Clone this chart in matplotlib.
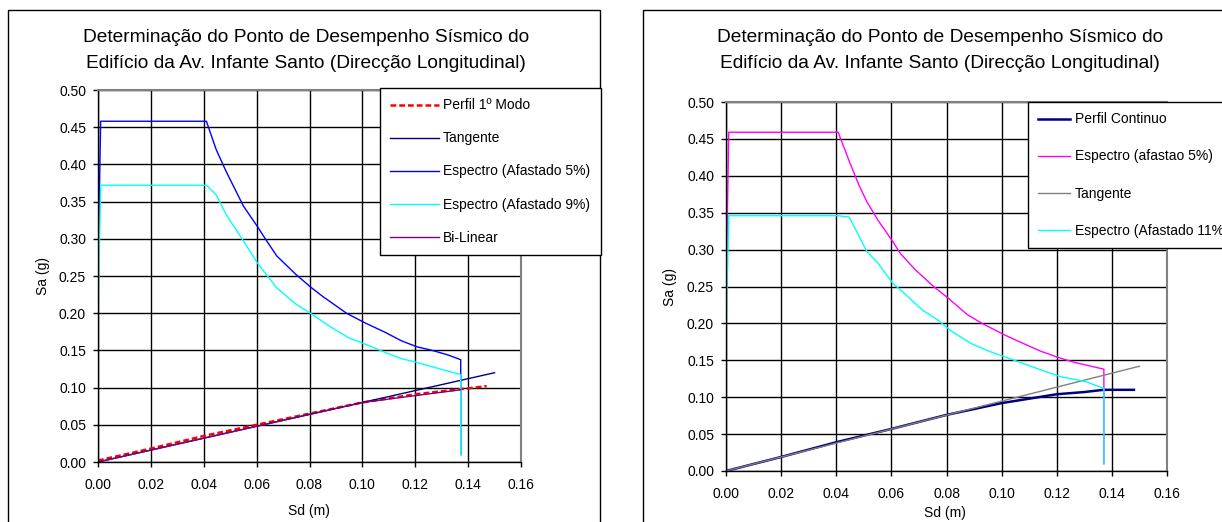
import matplotlib
matplotlib.use("Agg")
import matplotlib.pyplot as plt
from matplotlib.patches import Rectangle

plt.rcParams['font.family'] = ['Liberation Sans', 'DejaVu Sans']

W, H = 1222, 522

title_l1 = "Determinação do Ponto de Desempenho Sísmico do"
title_l2 = "Edifício da Av. Infante Santo (Direcção Longitudinal)"
xlabel = "Sd (m)"
ylabel = "Sa (g)"
xticks = [0.00, 0.02, 0.04, 0.06, 0.08, 0.10, 0.12, 0.14, 0.16]
yticks = [0.00, 0.05, 0.10, 0.15, 0.20, 0.25, 0.30, 0.35, 0.40, 0.45, 0.50]

# ---- left chart series ----
perfil1_sd = [0.0, 0.02, 0.04, 0.06, 0.08, 0.10, 0.12, 0.14, 0.147]
perfil1_sa = [0.002, 0.018, 0.035, 0.050, 0.065, 0.080, 0.091, 0.099, 0.102]

tang_l_sd = [0.0, 0.15]
tang_l_sa = [0.0, 0.12]

esp5_l_sd = [0.0, 0.001, 0.041, 0.0447, 0.0484, 0.055, 0.0602, 0.0631, 0.0676,
             0.0749, 0.0808, 0.0852, 0.094, 0.1007, 0.1088, 0.1147, 0.1205,
             0.1264, 0.1323, 0.1372, 0.1372]
esp5_l_sa = [0.25, 0.458, 0.458, 0.420, 0.391, 0.344, 0.317, 0.301, 0.277,
             0.252, 0.234, 0.222, 0.200, 0.1875, 0.174, 0.163, 0.155,
             0.150, 0.144, 0.1375, 0.010]

esp9_sd = [0.0, 0.001, 0.041, 0.0447, 0.0484, 0.0543, 0.0602, 0.0676, 0.0749,
           0.0808, 0.0882, 0.0948, 0.1014, 0.1088, 0.1147, 0.1205, 0.1294,
           0.1372, 0.1372]
esp9_sa = [0.192, 0.372, 0.372, 0.359, 0.333, 0.301, 0.268, 0.234, 0.212,
           0.199, 0.181, 0.167, 0.158, 0.147, 0.139, 0.134, 0.125,
           0.1175, 0.010]

bilin_sd = [0.0, 0.10, 0.137]
bilin_sa = [0.0, 0.080, 0.097]

# ---- right chart series ----
pcont_sd = [0.0, 0.02, 0.04, 0.06, 0.08, 0.09, 0.10, 0.11, 0.12, 0.13, 0.137, 0.148]
pcont_sa = [0.0, 0.019, 0.039, 0.057, 0.076, 0.084, 0.092, 0.098, 0.104, 0.107, 0.110, 0.110]

esp5_r_sd = [0.0, 0.001, 0.0407, 0.045, 0.0484, 0.0511, 0.0551, 0.0605, 0.0632,
             0.0686, 0.0753, 0.0807, 0.0875, 0.0929, 0.101, 0.1077, 0.1144,
             0.1212, 0.1266, 0.1371, 0.1371]
esp5_r_sa = [0.235, 0.459, 0.459, 0.417, 0.386, 0.365, 0.340, 0.311, 0.295,
             0.273, 0.250, 0.234, 0.212, 0.200, 0.1845, 0.173, 0.162,
             0.153, 0.147, 0.138, 0.010]

tang_r_sd = [0.0, 0.15]
tang_r_sa = [0.0, 0.142]

esp11_sd = [0.0, 0.001, 0.0405, 0.0447, 0.0511, 0.0551, 0.0605, 0.0646, 0.0713,
            0.0767, 0.082, 0.0888, 0.0956, 0.101, 0.109, 0.1158, 0.1212,
            0.1306, 0.1371, 0.1371]
esp11_sa = [0.178, 0.346, 0.346, 0.344, 0.2975, 0.2817, 0.2545, 0.241, 0.218,
            0.205, 0.189, 0.173, 0.162, 0.155, 0.144, 0.135, 0.128,
            0.121, 0.112, 0.0095]

fig = plt.figure(figsize=(W / 100, H / 100), dpi=100)
fig.patch.set_facecolor('white')


def fbox(x0, y0, x1, y1):
    """pixel box (top-left origin) -> figure fraction rect"""
    return [x0 / W, 1 - y1 / H, (x1 - x0) / W, (y1 - y0) / H]


def style_axes(ax):
    ax.set_xlim(0, 0.16)
    ax.set_ylim(0, 0.5)
    ax.set_xticks(xticks)
    ax.set_yticks(yticks)
    ax.set_xticklabels([f"{v:.2f}" for v in xticks])
    ax.set_yticklabels([f"{v:.2f}" for v in yticks])
    ax.grid(True, color='black', linewidth=1.0)
    for s in ('left', 'bottom'):
        ax.spines[s].set_color('black')
        ax.spines[s].set_linewidth(1.0)
    for s in ('top', 'right'):
        ax.spines[s].set_color('#808080')
        ax.spines[s].set_linewidth(1.5)
    ax.tick_params(axis='both', direction='out', length=3.6, width=1.0,
                   labelsize=10, colors='black')
    ax.tick_params(axis='y', pad=5)
    ax.tick_params(axis='x', pad=8)
    ax.set_facecolor('white')


# outer chart frames
fig.add_artist(Rectangle((8 / W, 1 - 600 / H), (600 - 8) / W, (600 - 10) / H,
                         transform=fig.transFigure, fill=False,
                         edgecolor='black', linewidth=1.0))
fig.add_artist(Rectangle((643 / W, 1 - 600 / H), (1400 - 643) / W, (600 - 10) / H,
                         transform=fig.transFigure, fill=False,
                         edgecolor='black', linewidth=1.0))

# ---------------- left chart ----------------
ax1 = fig.add_axes(fbox(98, 90, 521, 462))
style_axes(ax1)
h1, = ax1.plot(perfil1_sd, perfil1_sa, color='#FF0000', linewidth=1.8,
               linestyle=(0, (2.3, 1.2)), label='Perfil 1º Modo')
h2, = ax1.plot(tang_l_sd, tang_l_sa, color='#000080', linewidth=1.0, label='Tangente')
h3, = ax1.plot(esp5_l_sd, esp5_l_sa, color='#0000FF', linewidth=1.0,
               label='Espectro (Afastado 5%)')
h4, = ax1.plot(esp9_sd, esp9_sa, color='#00FFFF', linewidth=1.0,
               label='Espectro (Afastado 9%)')
h5, = ax1.plot(bilin_sd, bilin_sa, color='#800080', linewidth=1.0, label='Bi-Linear')

fig.text(306 / W, 1 - 38 / H, title_l1, ha='center', va='center', fontsize=13.8)
fig.text(306 / W, 1 - 63 / H, title_l2, ha='center', va='center', fontsize=13.8)
fig.text(43 / W, 1 - 276 / H, ylabel, ha='center', va='center', rotation=90, fontsize=10)
fig.text(309 / W, 1 - 511 / H, xlabel, ha='center', va='center', fontsize=10)

leg1 = fig.legend(handles=[h1, h2, h3, h4, h5], loc='upper left',
                  bbox_to_anchor=(380 / W, 1 - 88 / H), bbox_transform=fig.transFigure,
                  fontsize=10, frameon=True, fancybox=False, framealpha=1,
                  edgecolor='black', borderpad=0.75, labelspacing=1.37,
                  handlelength=3.5, handletextpad=0.3, borderaxespad=0)
leg1.get_frame().set_linewidth(1.0)

# ---------------- right chart ----------------
ax2 = fig.add_axes(fbox(726, 102, 1167, 471))
style_axes(ax2)
g1, = ax2.plot(pcont_sd, pcont_sa, color='#000080', linewidth=1.8, label='Perfil Continuo')
g2, = ax2.plot(esp5_r_sd, esp5_r_sa, color='#FF00FF', linewidth=1.0,
               label='Espectro (afastao 5%)')
g3, = ax2.plot(tang_r_sd, tang_r_sa, color='#808080', linewidth=1.0, label='Tangente')
g4, = ax2.plot(esp11_sd, esp11_sa, color='#00FFFF', linewidth=1.0,
               label='Espectro (Afastado 11%)')

fig.text(940 / W, 1 - 38 / H, title_l1, ha='center', va='center', fontsize=13.8)
fig.text(940 / W, 1 - 63 / H, title_l2, ha='center', va='center', fontsize=13.8)
fig.text(670 / W, 1 - 287 / H, ylabel, ha='center', va='center', rotation=90, fontsize=10)
fig.text(945 / W, 1 - 513 / H, xlabel, ha='center', va='center', fontsize=10)

leg2 = fig.legend(handles=[g1, g2, g3, g4], loc='upper left',
                  bbox_to_anchor=(1028 / W, 1 - 102 / H), bbox_transform=fig.transFigure,
                  fontsize=10, frameon=True, fancybox=False, framealpha=1,
                  edgecolor='black', borderpad=0.75, labelspacing=1.66,
                  handlelength=2.3, handletextpad=0.3, borderaxespad=0)
leg2.get_frame().set_linewidth(1.0)

fig.savefig('out.png', dpi=100, facecolor='white')
